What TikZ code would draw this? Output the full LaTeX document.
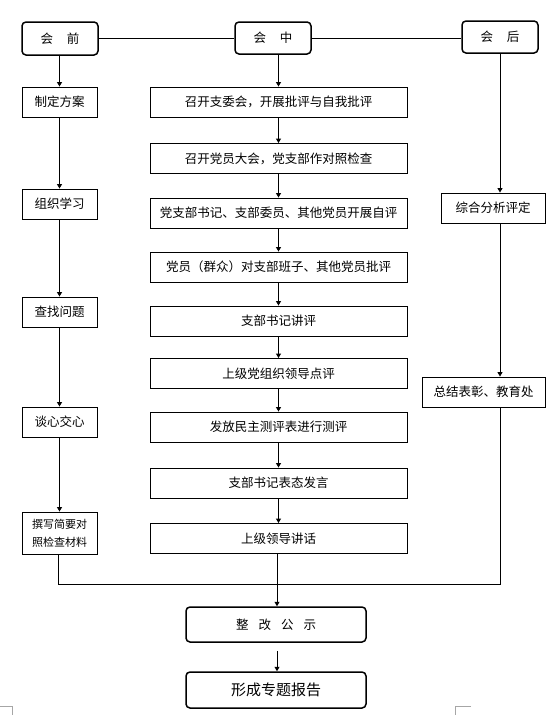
\documentclass[tikz,border=0pt]{standalone}
\usepackage{fontspec}
\setmainfont{Noto Sans CJK SC}
\usetikzlibrary{arrows.meta}
\tikzset{
  box/.style={draw, line width=0.9pt, inner sep=0pt, minimum height=30pt, font=\fontsize{12.5}{15}\selectfont},
  lbox/.style={box, minimum width=75pt},
  cbox/.style={box, minimum width=257pt},
  rbox/.style={draw, line width=1.5pt, rounded corners=4pt, inner sep=0pt, font=\fontsize{12.5}{15}\selectfont},
  conn/.style={line width=0.9pt},
  arr/.style={conn, -{Triangle[width=5pt,length=4.5pt]}},
  cornermark/.style={line width=0.8pt, gray!70}
}
\begin{document}
\begin{tikzpicture}[x=1pt,y=-1pt]
\useasboundingbox (0,0) rectangle (546,715);
% top row
\node[rbox, minimum width=76pt, minimum height=33pt] (hq) at (60,38.5) {会\hspace{1.1em}前};
\node[rbox, minimum width=76pt, minimum height=32pt] (hz) at (273,38) {会\hspace{1.1em}中};
\node[rbox, minimum width=76pt, minimum height=32pt] (hh) at (500,37) {会\hspace{1.1em}后};
\draw[conn] (hq.east |- 0,38) -- (hz.west |- 0,38);
\draw[conn] (hz.east |- 0,38) -- (hh.west |- 0,38);
% left column
\node[lbox] (l1) at (59.5,102) {制定方案};
\node[lbox] (l2) at (59.5,204) {组织学习};
\node[lbox] (l3) at (59.5,312) {查找问题};
\node[lbox] (l4) at (59.5,422) {谈心交心};
\node[lbox, minimum height=42pt, align=center, font=\fontsize{11}{18}\selectfont] (l5) at (59.5,533) {撰写简要对\\照检查材料};
\draw[arr] (hq.south -| l1.north) -- (l1.north);
\draw[arr] (l1) -- (l2);
\draw[arr] (l2) -- (l3);
\draw[arr] (l3) -- (l4);
\draw[arr] (l4) -- (l5);
% centre column
\node[cbox] (c1) at (278.5,102) {召开支委会，开展批评与自我批评};
\node[cbox] (c2) at (278.5,158.5) {召开党员大会，党支部作对照检查};
\node[cbox] (c3) at (278.5,213) {党支部书记、支部委员、其他党员开展自评};
\node[cbox] (c4) at (278.5,267) {党员（群众）对支部班子、其他党员批评};
\node[cbox] (c5) at (278.5,321) {支部书记讲评};
\node[cbox] (c6) at (278.5,373.5) {上级党组织领导点评};
\node[cbox] (c7) at (278.5,427) {发放民主测评表进行测评};
\node[cbox] (c8) at (278.5,483) {支部书记表态发言};
\node[cbox] (c9) at (278.5,538.5) {上级领导讲话};
\draw[arr] (hz.south -| c1.north) -- (c1.north);
\foreach \a/\b in {c1/c2,c2/c3,c3/c4,c4/c5,c5/c6,c6/c7,c7/c8,c8/c9}
  \draw[arr] (\a) -- (\b);
% right column
\node[box, minimum width=104pt] (r1) at (493,208) {综合分析评定};
\node[box, minimum width=123pt] (r2) at (483.5,392) {总结表彰、教育处};
\draw[arr] (hh.south) -- (hh.south |- r1.north);
\draw[arr] (hh.south |- r1.south) -- (hh.south |- r2.north);
% bottom
\node[rbox, minimum width=180pt, minimum height=35pt] (zg) at (276,624.5) {整\hspace{0.8em}改\hspace{0.8em}公\hspace{0.8em}示};
\node[rbox, minimum width=180pt, minimum height=36pt, font=\fontsize{15}{18}\selectfont] (bg) at (276,690) {形成专题报告};
\coordinate (jl) at (58,584);
\coordinate (jr) at (500,584);
\draw[conn] (l5.south -| jl) -- (jl) -- (jr) -- (hh.south |- r2.south);
\draw[arr] (c9.south -| 277,0) -- (zg.north -| 277,0);
\draw[arr] ([yshift=-8pt]zg.south -| 277,0) -- (bg.north -| 277,0);
% page corner marks
\draw[cornermark] (0,706) -- (12,706) -- (12,715);
\draw[cornermark] (471,706) -- (455,706) -- (455,715);
\end{tikzpicture}
\end{document}
